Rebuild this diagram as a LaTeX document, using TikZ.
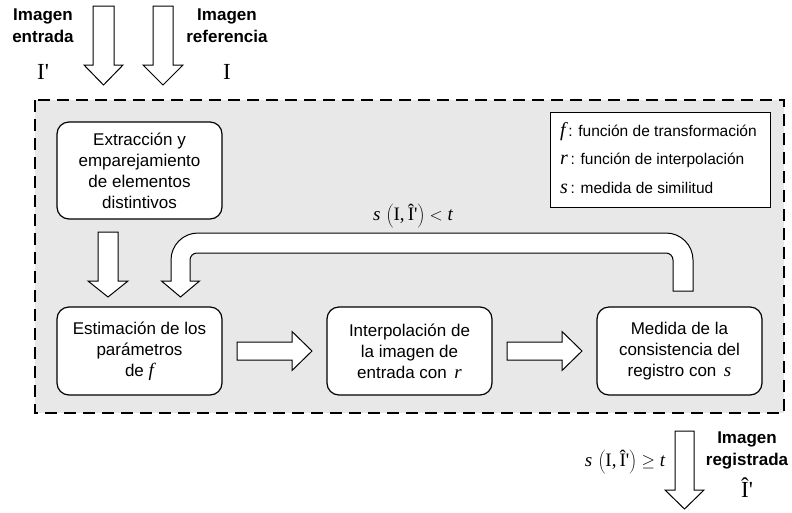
\documentclass[tikz,border=0pt]{standalone}
\usepackage{fontspec}
\setmainfont{Liberation Sans}
\newfontfamily\tms{Liberation Serif}
\newcommand\mi[1]{{\tms\itshape #1}}
\newcommand\simexpr[1]{$\hbox{\tms\itshape s}\,\left(\hbox{\tms I,\,Î'}\vrule height 17pt depth 7pt width 0pt\right)#1\hbox{\tms\itshape t}$}
\definecolor{bgc}{HTML}{E8E8E8}
\tikzset{
  box/.style={draw=black, line width=1.2pt, fill=white, rounded corners=12pt,
    minimum width=165pt, align=center, inner sep=2pt,
    font=\fontsize{17}{21}\selectfont},
  blockarrow/.style={draw=black, line width=1pt, fill=white, line join=miter},
  lbl/.style={align=center, font=\bfseries\fontsize{17}{22}\selectfont, inner sep=0pt},
  sym/.style={font=\tms\fontsize{23}{23}\selectfont, inner sep=0pt},
  frm/.style={font=\fontsize{19}{22}\selectfont, inner sep=0pt},
  legtxt/.style={anchor=west, font=\fontsize{15.5}{18}\selectfont, inner sep=0pt}
}
\newcommand\downarr[6]{% x, ytop, ybase, ytip, shaft half, head half
  \draw[blockarrow] (#1-#5,#2) -- (#1+#5,#2) -- (#1+#5,#3) -- (#1+#6,#3) -- (#1,#4)
    -- (#1-#6,#3) -- (#1-#5,#3) -- cycle;}
\newcommand\rightarr[6]{% y, xleft, xbase, xtip, shaft half, head half
  \draw[blockarrow] (#2,#1-#5) -- (#3,#1-#5) -- (#3,#1-#6) -- (#4,#1)
    -- (#3,#1+#6) -- (#3,#1+#5) -- (#2,#1+#5) -- cycle;}
\begin{document}
\begin{tikzpicture}[x=1pt,y=-1pt]
\useasboundingbox (0,0) rectangle (792,512);
% dashed frame
\draw[fill=bgc, line width=2.5pt, dash pattern=on 12pt off 7pt] (35,100) rectangle (784,413);

% input labels
\node[lbl] (lin) at (43,26) {Imagen\\entrada};
\node[sym] (sin) at (43,72) {I'};
\node[lbl] (lref) at (227,26) {Imagen\\referencia};
\node[sym] (sref) at (227,72) {I};

% input arrows
\downarr{103.5}{6}{65}{85}{10.5}{19.5}
\downarr{163}{6}{65}{85}{10}{20}

% boxes
\node[box, minimum height=97pt] (b1) at (139.5,170.5) {Extracción y\\emparejamiento\\de elementos\\distintivos};
\node[box, minimum height=88pt] (b2) at (139.5,351) {Estimación de los\\parámetros\\de \mi{\fontsize{19}{21}\selectfont f}};
\node[box, minimum height=88pt] (b3) at (409.5,351) {Interpolación de\\la imagen de\\entrada con \,\mi{\fontsize{19}{21}\selectfont r}};
\node[box, minimum height=88pt] (b4) at (679.5,351) {Medida de la\\consistencia del\\registro con \,\mi{\fontsize{19}{21}\selectfont s}};

% legend
\node[draw=black, line width=1pt, fill=white, minimum width=220pt, minimum height=95pt, inner sep=0pt] (leg) at (660,159.5) {};
\node[legtxt] (l1) at (560,132) {\mi{\fontsize{20}{20}\selectfont f}\,: función de transformación};
\node[legtxt] (l2) at (560,160) {\mi{\fontsize{20}{20}\selectfont r}\,: función de interpolación};
\node[legtxt] (l3) at (560,188) {\mi{\fontsize{20}{20}\selectfont s}\,: medida de similitud};

% arrow b1 -> b2
\downarr{108}{232}{281}{297}{10}{20}
% arrows b2 -> b3 -> b4
\rightarr{351}{237}{292}{312}{9}{19.5}
\rightarr{351}{507}{562}{582}{9}{19.5}

% feedback loop arrow
\draw[blockarrow]
  (673,291) -- (673,260) arc[start angle=0, end angle=90, radius=7pt]
  -- (197,253) arc[start angle=90, end angle=180, radius=7pt]
  -- (190,281) -- (199.5,281) -- (180.5,297) -- (161.5,281) -- (171,281)
  -- (171,260) arc[start angle=180, end angle=90, radius=27pt]
  -- (666,233) arc[start angle=90, end angle=0, radius=27pt]
  -- (693,291) -- cycle;
\node[frm] (cond1) at (413,216) {\simexpr{<}};

% output
\downarr{684.5}{431}{490}{509}{9.5}{19.5}
\node[frm] (cond2) at (625,462) {\simexpr{\geq}};
\node[lbl] (lout) at (747,450) {Imagen\\registrada};
\node[sym] (sout) at (747,488) {Î'};
\end{tikzpicture}
\end{document}
